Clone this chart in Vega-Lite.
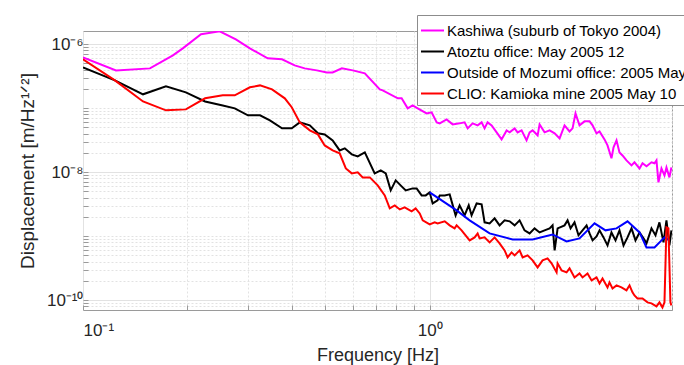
{
  "$schema": "https://vega.github.io/schema/vega-lite/v6.json",
  "width": 589,
  "height": 279,
  "autosize": {"type": "none"},
  "padding": {"left": 83, "top": 31, "right": 12, "bottom": 55},
  "background": "white",
  "config": {"view": {"stroke": "#9a9a9a", "strokeWidth": 1}, "font": "Liberation Sans"},
  "datasets": {
    "d": [
      {"s": "Kashiwa (suburb of Tokyo 2004)", "f": 0.1, "v": 6.2e-7},
      {"s": "Kashiwa (suburb of Tokyo 2004)", "f": 0.1245, "v": 3.88e-7},
      {"s": "Kashiwa (suburb of Tokyo 2004)", "f": 0.156, "v": 4.17e-7},
      {"s": "Kashiwa (suburb of Tokyo 2004)", "f": 0.1817, "v": 6.66e-7},
      {"s": "Kashiwa (suburb of Tokyo 2004)", "f": 0.194, "v": 8.57e-7},
      {"s": "Kashiwa (suburb of Tokyo 2004)", "f": 0.219, "v": 1.42e-6},
      {"s": "Kashiwa (suburb of Tokyo 2004)", "f": 0.248, "v": 1.58e-6},
      {"s": "Kashiwa (suburb of Tokyo 2004)", "f": 0.276, "v": 1.18e-6},
      {"s": "Kashiwa (suburb of Tokyo 2004)", "f": 0.303, "v": 8.57e-7},
      {"s": "Kashiwa (suburb of Tokyo 2004)", "f": 0.341, "v": 5.98e-7},
      {"s": "Kashiwa (suburb of Tokyo 2004)", "f": 0.375, "v": 5.77e-7},
      {"s": "Kashiwa (suburb of Tokyo 2004)", "f": 0.408, "v": 4.65e-7},
      {"s": "Kashiwa (suburb of Tokyo 2004)", "f": 0.436, "v": 4.17e-7},
      {"s": "Kashiwa (suburb of Tokyo 2004)", "f": 0.4725, "v": 3.88e-7},
      {"s": "Kashiwa (suburb of Tokyo 2004)", "f": 0.505, "v": 3.61e-7},
      {"s": "Kashiwa (suburb of Tokyo 2004)", "f": 0.525, "v": 3.61e-7},
      {"s": "Kashiwa (suburb of Tokyo 2004)", "f": 0.558, "v": 4.17e-7},
      {"s": "Kashiwa (suburb of Tokyo 2004)", "f": 0.6, "v": 3.88e-7},
      {"s": "Kashiwa (suburb of Tokyo 2004)", "f": 0.65, "v": 3.49e-7},
      {"s": "Kashiwa (suburb of Tokyo 2004)", "f": 0.718, "v": 1.96e-7},
      {"s": "Kashiwa (suburb of Tokyo 2004)", "f": 0.732, "v": 1.89e-7},
      {"s": "Kashiwa (suburb of Tokyo 2004)", "f": 0.809, "v": 1.42e-7},
      {"s": "Kashiwa (suburb of Tokyo 2004)", "f": 0.83, "v": 1.42e-7},
      {"s": "Kashiwa (suburb of Tokyo 2004)", "f": 0.864, "v": 9.89e-8},
      {"s": "Kashiwa (suburb of Tokyo 2004)", "f": 0.893, "v": 1.1e-7},
      {"s": "Kashiwa (suburb of Tokyo 2004)", "f": 0.9235, "v": 9.89e-8},
      {"s": "Kashiwa (suburb of Tokyo 2004)", "f": 0.98, "v": 8.26e-8},
      {"s": "Kashiwa (suburb of Tokyo 2004)", "f": 1.013, "v": 8.57e-8},
      {"s": "Kashiwa (suburb of Tokyo 2004)", "f": 1.048, "v": 5.98e-8},
      {"s": "Kashiwa (suburb of Tokyo 2004)", "f": 1.069, "v": 5.77e-8},
      {"s": "Kashiwa (suburb of Tokyo 2004)", "f": 1.119, "v": 6.66e-8},
      {"s": "Kashiwa (suburb of Tokyo 2004)", "f": 1.165, "v": 5.56e-8},
      {"s": "Kashiwa (suburb of Tokyo 2004)", "f": 1.22, "v": 5.77e-8},
      {"s": "Kashiwa (suburb of Tokyo 2004)", "f": 1.261, "v": 5.98e-8},
      {"s": "Kashiwa (suburb of Tokyo 2004)", "f": 1.287, "v": 4.82e-8},
      {"s": "Kashiwa (suburb of Tokyo 2004)", "f": 1.33, "v": 5.77e-8},
      {"s": "Kashiwa (suburb of Tokyo 2004)", "f": 1.375, "v": 5.37e-8},
      {"s": "Kashiwa (suburb of Tokyo 2004)", "f": 1.412, "v": 5.98e-8},
      {"s": "Kashiwa (suburb of Tokyo 2004)", "f": 1.44, "v": 4.82e-8},
      {"s": "Kashiwa (suburb of Tokyo 2004)", "f": 1.469, "v": 5.98e-8},
      {"s": "Kashiwa (suburb of Tokyo 2004)", "f": 1.509, "v": 5.37e-8},
      {"s": "Kashiwa (suburb of Tokyo 2004)", "f": 1.56, "v": 4.17e-8},
      {"s": "Kashiwa (suburb of Tokyo 2004)", "f": 1.612, "v": 3.24e-8},
      {"s": "Kashiwa (suburb of Tokyo 2004)", "f": 1.667, "v": 4.48e-8},
      {"s": "Kashiwa (suburb of Tokyo 2004)", "f": 1.701, "v": 4.17e-8},
      {"s": "Kashiwa (suburb of Tokyo 2004)", "f": 1.758, "v": 4.82e-8},
      {"s": "Kashiwa (suburb of Tokyo 2004)", "f": 1.793, "v": 4.17e-8},
      {"s": "Kashiwa (suburb of Tokyo 2004)", "f": 1.841, "v": 4.48e-8},
      {"s": "Kashiwa (suburb of Tokyo 2004)", "f": 1.903, "v": 3.13e-8},
      {"s": "Kashiwa (suburb of Tokyo 2004)", "f": 1.942, "v": 4.17e-8},
      {"s": "Kashiwa (suburb of Tokyo 2004)", "f": 1.981, "v": 4.48e-8},
      {"s": "Kashiwa (suburb of Tokyo 2004)", "f": 2.048, "v": 3.75e-8},
      {"s": "Kashiwa (suburb of Tokyo 2004)", "f": 2.075, "v": 5.56e-8},
      {"s": "Kashiwa (suburb of Tokyo 2004)", "f": 2.145, "v": 4.17e-8},
      {"s": "Kashiwa (suburb of Tokyo 2004)", "f": 2.218, "v": 4.48e-8},
      {"s": "Kashiwa (suburb of Tokyo 2004)", "f": 2.293, "v": 4.03e-8},
      {"s": "Kashiwa (suburb of Tokyo 2004)", "f": 2.37, "v": 3.36e-8},
      {"s": "Kashiwa (suburb of Tokyo 2004)", "f": 2.449, "v": 5.37e-8},
      {"s": "Kashiwa (suburb of Tokyo 2004)", "f": 2.532, "v": 4.32e-8},
      {"s": "Kashiwa (suburb of Tokyo 2004)", "f": 2.583, "v": 4.82e-8},
      {"s": "Kashiwa (suburb of Tokyo 2004)", "f": 2.634, "v": 8.26e-8},
      {"s": "Kashiwa (suburb of Tokyo 2004)", "f": 2.705, "v": 5.37e-8},
      {"s": "Kashiwa (suburb of Tokyo 2004)", "f": 2.797, "v": 6.2e-8},
      {"s": "Kashiwa (suburb of Tokyo 2004)", "f": 2.892, "v": 6.2e-8},
      {"s": "Kashiwa (suburb of Tokyo 2004)", "f": 2.95, "v": 5.37e-8},
      {"s": "Kashiwa (suburb of Tokyo 2004)", "f": 3.029, "v": 4.03e-8},
      {"s": "Kashiwa (suburb of Tokyo 2004)", "f": 3.09, "v": 4.32e-8},
      {"s": "Kashiwa (suburb of Tokyo 2004)", "f": 3.194, "v": 3.24e-8},
      {"s": "Kashiwa (suburb of Tokyo 2004)", "f": 3.258, "v": 2.61e-8},
      {"s": "Kashiwa (suburb of Tokyo 2004)", "f": 3.345, "v": 1.64e-8},
      {"s": "Kashiwa (suburb of Tokyo 2004)", "f": 3.391, "v": 2.43e-8},
      {"s": "Kashiwa (suburb of Tokyo 2004)", "f": 3.459, "v": 3.13e-8},
      {"s": "Kashiwa (suburb of Tokyo 2004)", "f": 3.528, "v": 2.03e-8},
      {"s": "Kashiwa (suburb of Tokyo 2004)", "f": 3.599, "v": 1.82e-8},
      {"s": "Kashiwa (suburb of Tokyo 2004)", "f": 3.696, "v": 1.52e-8},
      {"s": "Kashiwa (suburb of Tokyo 2004)", "f": 3.821, "v": 1.27e-8},
      {"s": "Kashiwa (suburb of Tokyo 2004)", "f": 3.897, "v": 1.42e-8},
      {"s": "Kashiwa (suburb of Tokyo 2004)", "f": 4.03, "v": 1.14e-8},
      {"s": "Kashiwa (suburb of Tokyo 2004)", "f": 4.111, "v": 1.37e-8},
      {"s": "Kashiwa (suburb of Tokyo 2004)", "f": 4.221, "v": 1.23e-8},
      {"s": "Kashiwa (suburb of Tokyo 2004)", "f": 4.363, "v": 1.42e-8},
      {"s": "Kashiwa (suburb of Tokyo 2004)", "f": 4.451, "v": 1.37e-8},
      {"s": "Kashiwa (suburb of Tokyo 2004)", "f": 4.51, "v": 1.52e-8},
      {"s": "Kashiwa (suburb of Tokyo 2004)", "f": 4.57, "v": 6.91e-9},
      {"s": "Kashiwa (suburb of Tokyo 2004)", "f": 4.662, "v": 1.14e-8},
      {"s": "Kashiwa (suburb of Tokyo 2004)", "f": 4.756, "v": 8.88e-9},
      {"s": "Kashiwa (suburb of Tokyo 2004)", "f": 4.819, "v": 1.18e-8},
      {"s": "Kashiwa (suburb of Tokyo 2004)", "f": 4.915, "v": 8.26e-9},
      {"s": "Kashiwa (suburb of Tokyo 2004)", "f": 4.98, "v": 1.18e-8},

      {"s": "Atoztu office: May 2005 12", "f": 0.1, "v": 4.32e-7},
      {"s": "Atoztu office: May 2005 12", "f": 0.1236, "v": 2.71e-7},
      {"s": "Atoztu office: May 2005 12", "f": 0.149, "v": 1.64e-7},
      {"s": "Atoztu office: May 2005 12", "f": 0.1735, "v": 2.18e-7},
      {"s": "Atoztu office: May 2005 12", "f": 0.198, "v": 1.76e-7},
      {"s": "Atoztu office: May 2005 12", "f": 0.225, "v": 1.27e-7},
      {"s": "Atoztu office: May 2005 12", "f": 0.253, "v": 1.1e-7},
      {"s": "Atoztu office: May 2005 12", "f": 0.274, "v": 9.89e-8},
      {"s": "Atoztu office: May 2005 12", "f": 0.299, "v": 7.69e-8},
      {"s": "Atoztu office: May 2005 12", "f": 0.324, "v": 7.69e-8},
      {"s": "Atoztu office: May 2005 12", "f": 0.346, "v": 6.43e-8},
      {"s": "Atoztu office: May 2005 12", "f": 0.375, "v": 4.82e-8},
      {"s": "Atoztu office: May 2005 12", "f": 0.4, "v": 4.82e-8},
      {"s": "Atoztu office: May 2005 12", "f": 0.422, "v": 5.98e-8},
      {"s": "Atoztu office: May 2005 12", "f": 0.451, "v": 5.37e-8},
      {"s": "Atoztu office: May 2005 12", "f": 0.476, "v": 4.03e-8},
      {"s": "Atoztu office: May 2005 12", "f": 0.498, "v": 3.88e-8},
      {"s": "Atoztu office: May 2005 12", "f": 0.525, "v": 3.13e-8},
      {"s": "Atoztu office: May 2005 12", "f": 0.55, "v": 2.18e-8},
      {"s": "Atoztu office: May 2005 12", "f": 0.569, "v": 2.35e-8},
      {"s": "Atoztu office: May 2005 12", "f": 0.596, "v": 1.89e-8},
      {"s": "Atoztu office: May 2005 12", "f": 0.62, "v": 1.76e-8},
      {"s": "Atoztu office: May 2005 12", "f": 0.65, "v": 2.03e-8},
      {"s": "Atoztu office: May 2005 12", "f": 0.694, "v": 9.54e-9},
      {"s": "Atoztu office: May 2005 12", "f": 0.7225, "v": 1.06e-8},
      {"s": "Atoztu office: May 2005 12", "f": 0.747, "v": 9.54e-9},
      {"s": "Atoztu office: May 2005 12", "f": 0.772, "v": 5.18e-9},
      {"s": "Atoztu office: May 2005 12", "f": 0.798, "v": 7.42e-9},
      {"s": "Atoztu office: May 2005 12", "f": 0.83, "v": 5.98e-9},
      {"s": "Atoztu office: May 2005 12", "f": 0.853, "v": 5.18e-9},
      {"s": "Atoztu office: May 2005 12", "f": 0.893, "v": 5.56e-9},
      {"s": "Atoztu office: May 2005 12", "f": 0.917, "v": 5.56e-9},
      {"s": "Atoztu office: May 2005 12", "f": 0.948, "v": 4.32e-9},
      {"s": "Atoztu office: May 2005 12", "f": 0.974, "v": 4.32e-9},
      {"s": "Atoztu office: May 2005 12", "f": 1.0, "v": 4.82e-9},
      {"s": "Atoztu office: May 2005 12", "f": 1.02, "v": 3.24e-9},
      {"s": "Atoztu office: May 2005 12", "f": 1.054, "v": 3.61e-9},
      {"s": "Atoztu office: May 2005 12", "f": 1.069, "v": 4.32e-9},
      {"s": "Atoztu office: May 2005 12", "f": 1.105, "v": 4.32e-9},
      {"s": "Atoztu office: May 2005 12", "f": 1.142, "v": 4.48e-9},
      {"s": "Atoztu office: May 2005 12", "f": 1.188, "v": 2.11e-9},
      {"s": "Atoztu office: May 2005 12", "f": 1.22, "v": 3.02e-9},
      {"s": "Atoztu office: May 2005 12", "f": 1.261, "v": 2.11e-9},
      {"s": "Atoztu office: May 2005 12", "f": 1.296, "v": 3.02e-9},
      {"s": "Atoztu office: May 2005 12", "f": 1.321, "v": 2.11e-9},
      {"s": "Atoztu office: May 2005 12", "f": 1.366, "v": 3.24e-9},
      {"s": "Atoztu office: May 2005 12", "f": 1.412, "v": 3.13e-9},
      {"s": "Atoztu office: May 2005 12", "f": 1.44, "v": 1.64e-9},
      {"s": "Atoztu office: May 2005 12", "f": 1.489, "v": 1.58e-9},
      {"s": "Atoztu office: May 2005 12", "f": 1.539, "v": 1.89e-9},
      {"s": "Atoztu office: May 2005 12", "f": 1.591, "v": 1.47e-9},
      {"s": "Atoztu office: May 2005 12", "f": 1.645, "v": 1.76e-9},
      {"s": "Atoztu office: May 2005 12", "f": 1.701, "v": 1.7e-9},
      {"s": "Atoztu office: May 2005 12", "f": 1.758, "v": 1.47e-9},
      {"s": "Atoztu office: May 2005 12", "f": 1.817, "v": 1.76e-9},
      {"s": "Atoztu office: May 2005 12", "f": 1.878, "v": 1.23e-9},
      {"s": "Atoztu office: May 2005 12", "f": 1.942, "v": 1.1e-9},
      {"s": "Atoztu office: May 2005 12", "f": 2.007, "v": 1.32e-9},
      {"s": "Atoztu office: May 2005 12", "f": 2.075, "v": 1.14e-9},
      {"s": "Atoztu office: May 2005 12", "f": 2.145, "v": 1.23e-9},
      {"s": "Atoztu office: May 2005 12", "f": 2.218, "v": 1.32e-9},
      {"s": "Atoztu office: May 2005 12", "f": 2.262, "v": 1.47e-9},
      {"s": "Atoztu office: May 2005 12", "f": 2.293, "v": 5.98e-10},
      {"s": "Atoztu office: May 2005 12", "f": 2.339, "v": 1.32e-9},
      {"s": "Atoztu office: May 2005 12", "f": 2.449, "v": 1.47e-9},
      {"s": "Atoztu office: May 2005 12", "f": 2.499, "v": 1.76e-9},
      {"s": "Atoztu office: May 2005 12", "f": 2.549, "v": 1.32e-9},
      {"s": "Atoztu office: May 2005 12", "f": 2.617, "v": 1.64e-9},
      {"s": "Atoztu office: May 2005 12", "f": 2.687, "v": 1.03e-9},
      {"s": "Atoztu office: May 2005 12", "f": 2.76, "v": 1.23e-9},
      {"s": "Atoztu office: May 2005 12", "f": 2.835, "v": 1.47e-9},
      {"s": "Atoztu office: May 2005 12", "f": 2.892, "v": 1.1e-9},
      {"s": "Atoztu office: May 2005 12", "f": 2.95, "v": 8.57e-10},
      {"s": "Atoztu office: May 2005 12", "f": 3.029, "v": 9.89e-10},
      {"s": "Atoztu office: May 2005 12", "f": 3.09, "v": 1.23e-9},
      {"s": "Atoztu office: May 2005 12", "f": 3.173, "v": 9.54e-10},
      {"s": "Atoztu office: May 2005 12", "f": 3.258, "v": 7.16e-10},
      {"s": "Atoztu office: May 2005 12", "f": 3.345, "v": 1.14e-9},
      {"s": "Atoztu office: May 2005 12", "f": 3.436, "v": 8.57e-10},
      {"s": "Atoztu office: May 2005 12", "f": 3.528, "v": 1.23e-9},
      {"s": "Atoztu office: May 2005 12", "f": 3.623, "v": 7.16e-10},
      {"s": "Atoztu office: May 2005 12", "f": 3.721, "v": 9.54e-10},
      {"s": "Atoztu office: May 2005 12", "f": 3.821, "v": 1.32e-9},
      {"s": "Atoztu office: May 2005 12", "f": 3.923, "v": 8.57e-10},
      {"s": "Atoztu office: May 2005 12", "f": 4.03, "v": 1.14e-9},
      {"s": "Atoztu office: May 2005 12", "f": 4.138, "v": 9.21e-10},
      {"s": "Atoztu office: May 2005 12", "f": 4.221, "v": 7.69e-10},
      {"s": "Atoztu office: May 2005 12", "f": 4.363, "v": 1.32e-9},
      {"s": "Atoztu office: May 2005 12", "f": 4.481, "v": 1.03e-9},
      {"s": "Atoztu office: May 2005 12", "f": 4.6, "v": 1.64e-9},
      {"s": "Atoztu office: May 2005 12", "f": 4.725, "v": 7.97e-10},
      {"s": "Atoztu office: May 2005 12", "f": 4.819, "v": 1.76e-9},
      {"s": "Atoztu office: May 2005 12", "f": 4.915, "v": 7.16e-10},
      {"s": "Atoztu office: May 2005 12", "f": 4.98, "v": 1.23e-9},

      {"s": "Outside of Mozumi office: 2005 May", "f": 1.0, "v": 4.82e-9},
      {"s": "Outside of Mozumi office: 2005 May", "f": 1.196, "v": 2.52e-9},
      {"s": "Outside of Mozumi office: 2005 May", "f": 1.304, "v": 1.76e-9},
      {"s": "Outside of Mozumi office: 2005 May", "f": 1.489, "v": 1.1e-9},
      {"s": "Outside of Mozumi office: 2005 May", "f": 1.735, "v": 8.88e-10},
      {"s": "Outside of Mozumi office: 2005 May", "f": 1.981, "v": 8.88e-10},
      {"s": "Outside of Mozumi office: 2005 May", "f": 2.262, "v": 1.06e-9},
      {"s": "Outside of Mozumi office: 2005 May", "f": 2.482, "v": 8.26e-10},
      {"s": "Outside of Mozumi office: 2005 May", "f": 2.705, "v": 9.21e-10},
      {"s": "Outside of Mozumi office: 2005 May", "f": 2.989, "v": 1.58e-9},
      {"s": "Outside of Mozumi office: 2005 May", "f": 3.215, "v": 1.23e-9},
      {"s": "Outside of Mozumi office: 2005 May", "f": 3.459, "v": 1.32e-9},
      {"s": "Outside of Mozumi office: 2005 May", "f": 3.721, "v": 1.7e-9},
      {"s": "Outside of Mozumi office: 2005 May", "f": 4.03, "v": 1.14e-9},
      {"s": "Outside of Mozumi office: 2005 May", "f": 4.221, "v": 6.66e-10},
      {"s": "Outside of Mozumi office: 2005 May", "f": 4.451, "v": 6.66e-10},
      {"s": "Outside of Mozumi office: 2005 May", "f": 4.756, "v": 9.54e-10},
      {"s": "Outside of Mozumi office: 2005 May", "f": 4.915, "v": 8.57e-10},

      {"s": "CLIO: Kamioka mine  2005 May 10", "f": 0.1, "v": 5.77e-7},
      {"s": "CLIO: Kamioka mine  2005 May 10", "f": 0.1236, "v": 2.71e-7},
      {"s": "CLIO: Kamioka mine  2005 May 10", "f": 0.149, "v": 1.27e-7},
      {"s": "CLIO: Kamioka mine  2005 May 10", "f": 0.1735, "v": 9.21e-8},
      {"s": "CLIO: Kamioka mine  2005 May 10", "f": 0.198, "v": 9.54e-8},
      {"s": "CLIO: Kamioka mine  2005 May 10", "f": 0.225, "v": 1.42e-7},
      {"s": "CLIO: Kamioka mine  2005 May 10", "f": 0.253, "v": 1.58e-7},
      {"s": "CLIO: Kamioka mine  2005 May 10", "f": 0.274, "v": 1.58e-7},
      {"s": "CLIO: Kamioka mine  2005 May 10", "f": 0.303, "v": 2.11e-7},
      {"s": "CLIO: Kamioka mine  2005 May 10", "f": 0.324, "v": 2.26e-7},
      {"s": "CLIO: Kamioka mine  2005 May 10", "f": 0.351, "v": 1.96e-7},
      {"s": "CLIO: Kamioka mine  2005 May 10", "f": 0.382, "v": 1.42e-7},
      {"s": "CLIO: Kamioka mine  2005 May 10", "f": 0.4, "v": 1.03e-7},
      {"s": "CLIO: Kamioka mine  2005 May 10", "f": 0.422, "v": 5.98e-8},
      {"s": "CLIO: Kamioka mine  2005 May 10", "f": 0.451, "v": 4.48e-8},
      {"s": "CLIO: Kamioka mine  2005 May 10", "f": 0.476, "v": 3.88e-8},
      {"s": "CLIO: Kamioka mine  2005 May 10", "f": 0.498, "v": 2.61e-8},
      {"s": "CLIO: Kamioka mine  2005 May 10", "f": 0.525, "v": 2.18e-8},
      {"s": "CLIO: Kamioka mine  2005 May 10", "f": 0.55, "v": 1.96e-8},
      {"s": "CLIO: Kamioka mine  2005 May 10", "f": 0.573, "v": 1.14e-8},
      {"s": "CLIO: Kamioka mine  2005 May 10", "f": 0.596, "v": 9.54e-9},
      {"s": "CLIO: Kamioka mine  2005 May 10", "f": 0.62, "v": 9.89e-9},
      {"s": "CLIO: Kamioka mine  2005 May 10", "f": 0.641, "v": 8.26e-9},
      {"s": "CLIO: Kamioka mine  2005 May 10", "f": 0.672, "v": 8.26e-9},
      {"s": "CLIO: Kamioka mine  2005 May 10", "f": 0.708, "v": 6.2e-9},
      {"s": "CLIO: Kamioka mine  2005 May 10", "f": 0.742, "v": 4.32e-9},
      {"s": "CLIO: Kamioka mine  2005 May 10", "f": 0.767, "v": 2.71e-9},
      {"s": "CLIO: Kamioka mine  2005 May 10", "f": 0.793, "v": 3.02e-9},
      {"s": "CLIO: Kamioka mine  2005 May 10", "f": 0.82, "v": 2.61e-9},
      {"s": "CLIO: Kamioka mine  2005 May 10", "f": 0.847, "v": 2.81e-9},
      {"s": "CLIO: Kamioka mine  2005 May 10", "f": 0.887, "v": 2.43e-9},
      {"s": "CLIO: Kamioka mine  2005 May 10", "f": 0.911, "v": 2.71e-9},
      {"s": "CLIO: Kamioka mine  2005 May 10", "f": 0.936, "v": 2.26e-9},
      {"s": "CLIO: Kamioka mine  2005 May 10", "f": 0.955, "v": 1.76e-9},
      {"s": "CLIO: Kamioka mine  2005 May 10", "f": 1.0, "v": 1.52e-9},
      {"s": "CLIO: Kamioka mine  2005 May 10", "f": 1.034, "v": 1.64e-9},
      {"s": "CLIO: Kamioka mine  2005 May 10", "f": 1.054, "v": 1.58e-9},
      {"s": "CLIO: Kamioka mine  2005 May 10", "f": 1.105, "v": 1.7e-9},
      {"s": "CLIO: Kamioka mine  2005 May 10", "f": 1.142, "v": 1.47e-9},
      {"s": "CLIO: Kamioka mine  2005 May 10", "f": 1.18, "v": 1.32e-9},
      {"s": "CLIO: Kamioka mine  2005 May 10", "f": 1.196, "v": 1.47e-9},
      {"s": "CLIO: Kamioka mine  2005 May 10", "f": 1.236, "v": 1.23e-9},
      {"s": "CLIO: Kamioka mine  2005 May 10", "f": 1.304, "v": 8.57e-10},
      {"s": "CLIO: Kamioka mine  2005 May 10", "f": 1.348, "v": 9.54e-10},
      {"s": "CLIO: Kamioka mine  2005 May 10", "f": 1.375, "v": 1.1e-9},
      {"s": "CLIO: Kamioka mine  2005 May 10", "f": 1.393, "v": 9.21e-10},
      {"s": "CLIO: Kamioka mine  2005 May 10", "f": 1.44, "v": 9.54e-10},
      {"s": "CLIO: Kamioka mine  2005 May 10", "f": 1.489, "v": 7.97e-10},
      {"s": "CLIO: Kamioka mine  2005 May 10", "f": 1.539, "v": 9.54e-10},
      {"s": "CLIO: Kamioka mine  2005 May 10", "f": 1.591, "v": 7.69e-10},
      {"s": "CLIO: Kamioka mine  2005 May 10", "f": 1.645, "v": 5.98e-10},
      {"s": "CLIO: Kamioka mine  2005 May 10", "f": 1.678, "v": 4.65e-10},
      {"s": "CLIO: Kamioka mine  2005 May 10", "f": 1.723, "v": 5.56e-10},
      {"s": "CLIO: Kamioka mine  2005 May 10", "f": 1.758, "v": 5.0e-10},
      {"s": "CLIO: Kamioka mine  2005 May 10", "f": 1.817, "v": 5.98e-10},
      {"s": "CLIO: Kamioka mine  2005 May 10", "f": 1.854, "v": 4.65e-10},
      {"s": "CLIO: Kamioka mine  2005 May 10", "f": 1.916, "v": 5.0e-10},
      {"s": "CLIO: Kamioka mine  2005 May 10", "f": 1.981, "v": 4.17e-10},
      {"s": "CLIO: Kamioka mine  2005 May 10", "f": 2.048, "v": 3.24e-10},
      {"s": "CLIO: Kamioka mine  2005 May 10", "f": 2.117, "v": 4.17e-10},
      {"s": "CLIO: Kamioka mine  2005 May 10", "f": 2.188, "v": 4.48e-10},
      {"s": "CLIO: Kamioka mine  2005 May 10", "f": 2.247, "v": 3.75e-10},
      {"s": "CLIO: Kamioka mine  2005 May 10", "f": 2.323, "v": 2.71e-10},
      {"s": "CLIO: Kamioka mine  2005 May 10", "f": 2.339, "v": 3.75e-10},
      {"s": "CLIO: Kamioka mine  2005 May 10", "f": 2.402, "v": 2.91e-10},
      {"s": "CLIO: Kamioka mine  2005 May 10", "f": 2.482, "v": 2.71e-10},
      {"s": "CLIO: Kamioka mine  2005 May 10", "f": 2.532, "v": 3.13e-10},
      {"s": "CLIO: Kamioka mine  2005 May 10", "f": 2.617, "v": 2.26e-10},
      {"s": "CLIO: Kamioka mine  2005 May 10", "f": 2.705, "v": 2.61e-10},
      {"s": "CLIO: Kamioka mine  2005 May 10", "f": 2.76, "v": 2.26e-10},
      {"s": "CLIO: Kamioka mine  2005 May 10", "f": 2.853, "v": 2.61e-10},
      {"s": "CLIO: Kamioka mine  2005 May 10", "f": 2.931, "v": 2.03e-10},
      {"s": "CLIO: Kamioka mine  2005 May 10", "f": 3.029, "v": 2.26e-10},
      {"s": "CLIO: Kamioka mine  2005 May 10", "f": 3.09, "v": 1.82e-10},
      {"s": "CLIO: Kamioka mine  2005 May 10", "f": 3.152, "v": 2.18e-10},
      {"s": "CLIO: Kamioka mine  2005 May 10", "f": 3.258, "v": 1.58e-10},
      {"s": "CLIO: Kamioka mine  2005 May 10", "f": 3.301, "v": 1.89e-10},
      {"s": "CLIO: Kamioka mine  2005 May 10", "f": 3.368, "v": 1.52e-10},
      {"s": "CLIO: Kamioka mine  2005 May 10", "f": 3.459, "v": 1.7e-10},
      {"s": "CLIO: Kamioka mine  2005 May 10", "f": 3.575, "v": 1.58e-10},
      {"s": "CLIO: Kamioka mine  2005 May 10", "f": 3.696, "v": 1.42e-10},
      {"s": "CLIO: Kamioka mine  2005 May 10", "f": 3.771, "v": 1.7e-10},
      {"s": "CLIO: Kamioka mine  2005 May 10", "f": 3.846, "v": 1.32e-10},
      {"s": "CLIO: Kamioka mine  2005 May 10", "f": 3.897, "v": 1.18e-10},
      {"s": "CLIO: Kamioka mine  2005 May 10", "f": 3.976, "v": 1.06e-10},
      {"s": "CLIO: Kamioka mine  2005 May 10", "f": 4.111, "v": 1.06e-10},
      {"s": "CLIO: Kamioka mine  2005 May 10", "f": 4.249, "v": 9.21e-11},
      {"s": "CLIO: Kamioka mine  2005 May 10", "f": 4.363, "v": 8.88e-11},
      {"s": "CLIO: Kamioka mine  2005 May 10", "f": 4.51, "v": 7.97e-11},
      {"s": "CLIO: Kamioka mine  2005 May 10", "f": 4.6, "v": 9.21e-11},
      {"s": "CLIO: Kamioka mine  2005 May 10", "f": 4.693, "v": 7.69e-11},
      {"s": "CLIO: Kamioka mine  2005 May 10", "f": 4.756, "v": 9.21e-11},
      {"s": "CLIO: Kamioka mine  2005 May 10", "f": 4.819, "v": 1.37e-9},
      {"s": "CLIO: Kamioka mine  2005 May 10", "f": 4.883, "v": 1.32e-9},
      {"s": "CLIO: Kamioka mine  2005 May 10", "f": 4.948, "v": 9.21e-11},
      {"s": "CLIO: Kamioka mine  2005 May 10", "f": 4.98, "v": 8.26e-11}
    ]
  },
  "data": {"name": "d"},
  "mark": {"type": "line", "strokeWidth": 2, "clip": true},
  "encoding": {
    "x": {
      "field": "f",
      "type": "quantitative",
      "scale": {"type": "log", "domain": [0.1, 5], "nice": false},
      "axis": {
        "values": [0.1, 0.2, 0.3, 0.4, 0.5, 0.6, 0.7, 0.8, 0.9, 1, 2, 3, 4, 5],
        "labelExpr": "datum.value == 0.1 ? '10⁻¹' : datum.value == 1 ? '10⁰' : ''",
        "grid": true,
        "gridColor": "#e2e2e2",
        "gridDash": {"condition": {"test": "datum.value == 0.1 || datum.value == 1", "value": []}, "value": [2, 2]},
        "domain": false,
        "ticks": true,
        "tickSize": -5,
        "tickColor": "#9a9a9a",
        "labelFontSize": 17,
        "labelColor": "#262626",
        "labelPadding": 17,
        "labelFont": "Liberation Sans",
        "title": "Frequency [Hz]",
        "titleFont": "Liberation Sans",
        "titleFontSize": 18,
        "titleFontWeight": "normal",
        "titleColor": "#262626",
        "titlePadding": 8
      }
    },
    "y": {
      "field": "v",
      "type": "quantitative",
      "scale": {"type": "log", "domain": [7e-11, 1.6e-6], "nice": false},
      "axis": {
        "values": [8e-11, 9e-11, 1e-10, 2e-10, 3e-10, 4e-10, 5e-10, 6e-10, 7e-10, 8e-10, 9e-10, 1e-9, 2e-9, 3e-9, 4e-9, 5e-9, 6e-9, 7e-9, 8e-9, 9e-9, 1e-8, 2e-8, 3e-8, 4e-8, 5e-8, 6e-8, 7e-8, 8e-8, 9e-8, 1e-7, 2e-7, 3e-7, 4e-7, 5e-7, 6e-7, 7e-7, 8e-7, 9e-7, 1e-6],
        "labelExpr": "datum.value == 1e-6 ? '10⁻⁶' : datum.value == 1e-8 ? '10⁻⁸' : datum.value == 1e-10 ? '10⁻¹⁰' : ''",
        "grid": true,
        "gridColor": "#e2e2e2",
        "gridDash": {"condition": {"test": "datum.value == 1e-6 || datum.value == 1e-8 || datum.value == 1e-10", "value": []}, "value": [2, 2]},
        "domain": false,
        "ticks": true,
        "tickSize": -5,
        "tickColor": "#9a9a9a",
        "labelFontSize": 17,
        "labelColor": "#262626",
        "labelPadding": 5,
        "labelFont": "Liberation Sans",
        "title": "Displacement [m/Hz¹ᐟ²]",
        "titleFont": "Liberation Sans",
        "titleFontSize": 19,
        "titleFontWeight": "normal",
        "titleColor": "#262626",
        "titlePadding": 9
      }
    },
    "color": {
      "field": "s",
      "type": "nominal",
      "scale": {
        "domain": ["Kashiwa (suburb of Tokyo 2004)", "Atoztu office: May 2005 12", "Outside of Mozumi office: 2005 May", "CLIO: Kamioka mine  2005 May 10"],
        "range": ["#ff00ff", "#000000", "#0000ff", "#ff0000"]
      },
      "legend": {
        "orient": "none",
        "legendX": 334,
        "legendY": -16,
        "title": null,
        "symbolType": "stroke",
        "symbolSize": 529,
        "symbolStrokeWidth": 2,
        "labelFontSize": 15,
        "labelFont": "Liberation Sans",
        "labelColor": "#000000",
        "labelLimit": 600,
        "labelOffset": 2,
        "fillColor": "white",
        "strokeColor": "#8c8c8c",
        "padding": 3,
        "rowPadding": -4
      }
    }
  }
}
